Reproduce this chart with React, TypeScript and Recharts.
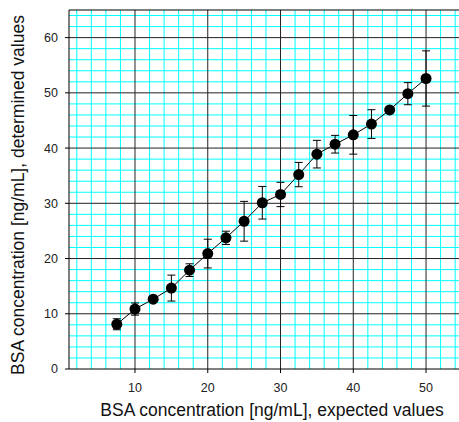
import React from 'react';
import { ComposedChart, Line, XAxis, YAxis, ErrorBar, ReferenceLine, Label } from 'recharts';

const expected = [7.5, 10, 12.5, 15, 17.5, 20, 22.5, 25, 27.5, 30, 32.5, 35, 37.5, 40, 42.5, 45, 47.5, 50];
const determined = [8.1, 10.85, 12.65, 14.65, 17.9, 20.9, 23.75, 26.75, 30.1, 31.6, 35.2, 38.9, 40.7, 42.4, 44.35, 46.9, 49.85, 52.6];
const errors = [1.0, 1.1, 0.3, 2.35, 1.15, 2.6, 1.2, 3.6, 2.95, 2.2, 2.2, 2.5, 1.6, 3.5, 2.6, 0.4, 2.0, 5.0];

const xTicks = [10, 20, 30, 40, 50];
const yTicks = [0, 10, 20, 30, 40, 50, 60];
const xMinor = [2, 4, 6, 8, 12, 14, 16, 18, 22, 24, 26, 28, 32, 34, 36, 38, 42, 44, 46, 48, 52, 54];
const yMinor = [2, 4, 6, 8, 12, 14, 16, 18, 22, 24, 26, 28, 32, 34, 36, 38, 42, 44, 46, 48, 52, 54, 56, 58, 62, 64];
const xMajor = [10, 20, 30, 40, 50];
const yMajor = [10, 20, 30, 40, 50, 60];

const xLabel = 'BSA concentration [ng/mL], expected values';
const yLabel = 'BSA concentration [ng/mL], determined values';

const data = expected.map((x, i) => ({ x, y: determined[i], err: errors[i] }));

const FONT = '"Liberation Sans", Arial, sans-serif';

const XLabelContent = (props: any) => {
  const vb = props.viewBox || { x: 69, y: 369, width: 390, height: 53 };
  return (
    <text
      x={vb.x + vb.width / 2 + 8}
      y={vb.y + 46.5}
      textAnchor="middle"
      fill="#111"
      fontSize={17.5}
      fontFamily={FONT}
    >
      {xLabel}
    </text>
  );
};

const YLabelContent = (props: any) => {
  const vb = props.viewBox || { x: 0, y: 10, width: 69, height: 359 };
  const cx = vb.x + 17.5;
  const cy = vb.y + vb.height / 2 + 5.5;
  return (
    <text
      x={cx}
      y={cy}
      transform={`rotate(-90, ${cx}, ${cy})`}
      textAnchor="middle"
      dominantBaseline="central"
      fill="#111"
      fontSize={17.5}
      fontFamily={FONT}
    >
      {yLabel}
    </text>
  );
};

export default function App() {
  return (
    <div style={{ position: 'absolute', left: 0, top: 0 }}>
      <ComposedChart
        width={459}
        height={422}
        data={data}
        margin={{ top: 10, right: 0, bottom: 0, left: 0 }}
        style={{ fontFamily: FONT }}
      >
        <XAxis
          type="number"
          dataKey="x"
          domain={[0.93, 54.53]}
          ticks={xTicks}
          tickSize={4}
          tickMargin={10}
          height={53}
          allowDataOverflow
          stroke="#000"
          tick={{ fill: '#222', fontSize: 12.5, fontFamily: FONT }}
        >
          <Label content={XLabelContent} />
        </XAxis>
        <YAxis
          type="number"
          domain={[0, 65]}
          ticks={yTicks}
          tickSize={4}
          tickMargin={7}
          width={69}
          allowDataOverflow
          stroke="#000"
          tick={{ fill: '#222', fontSize: 12.5, fontFamily: FONT }}
        >
          <Label content={YLabelContent} />
        </YAxis>
        {xMinor.map((v) => (
          <ReferenceLine key={'xm' + v} x={v} stroke="#00FFFF" strokeWidth={1} />
        ))}
        {yMinor.map((v) => (
          <ReferenceLine key={'ym' + v} y={v} stroke="#00FFFF" strokeWidth={1} />
        ))}
        {xMajor.map((v) => (
          <ReferenceLine key={'xM' + v} x={v} stroke="#222" strokeWidth={1} />
        ))}
        {yMajor.map((v) => (
          <ReferenceLine key={'yM' + v} y={v} stroke="#222" strokeWidth={1} />
        ))}
        <ReferenceLine y={65} stroke="#000" strokeWidth={1} />
        <Line
          type="linear"
          dataKey="y"
          stroke="#000"
          strokeWidth={1}
          isAnimationActive={false}
          dot={{ r: 5.5, fill: '#000', stroke: '#000', strokeWidth: 0 }}
          activeDot={false}
        >
          <ErrorBar dataKey="err" width={4} stroke="#000" strokeWidth={1} direction="y" />
        </Line>
      </ComposedChart>
    </div>
  );
}
